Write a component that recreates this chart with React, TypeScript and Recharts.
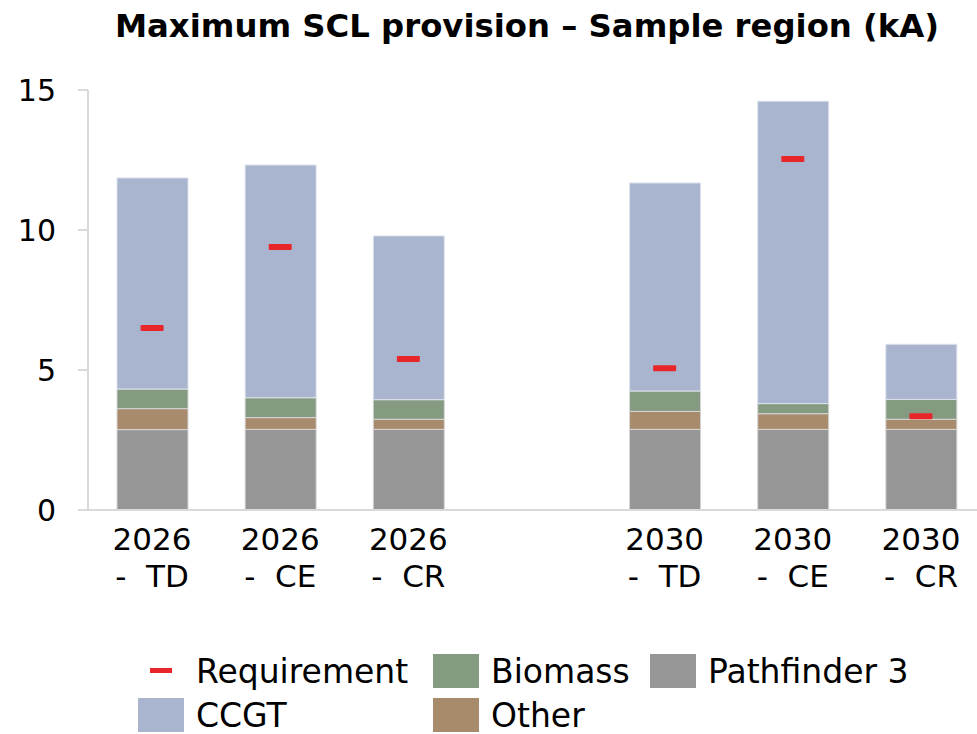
import React from 'react';
import { ComposedChart, Bar, Line, XAxis, YAxis } from 'recharts';

// categories (blank slot keeps the gap between the two years)
const CATEGORIES = ['2026 - TD', '2026 - CE', '2026 - CR', '', '2030 - TD', '2030 - CE', '2030 - CR'];

// stacked values in kA, bottom to top
const PATHFINDER = [2.87, 2.88, 2.88, null, 2.88, 2.88, 2.88];
const OTHER = [0.75, 0.42, 0.36, null, 0.64, 0.56, 0.36];
const BIOMASS = [0.7, 0.71, 0.7, null, 0.73, 0.36, 0.71];
const CCGT = [7.54, 8.31, 5.85, null, 7.43, 10.8, 1.97];
const REQUIREMENT = [6.5, 9.39, 5.39, null, 5.06, 12.54, 3.35];

const Y_TICKS = [0, 5, 10, 15];

const COLORS = {
  pathfinder: '#969696',
  other: '#a88a6c',
  biomass: '#849b82',
  ccgt: '#a9b5ce',
  req: '#e8262a',
};

const FONT = '"DejaVu Sans", Verdana, sans-serif';
const AXIS = '#d9d9d9';

const data = CATEGORIES.map((name, i) => ({
  name,
  pathfinder: PATHFINDER[i],
  other: OTHER[i],
  biomass: BIOMASS[i],
  ccgt: CCGT[i],
  req: REQUIREMENT[i],
}));

const CategoryTick = (props: any) => {
  const { x, y, payload } = props;
  const label: string = payload.value || '';
  if (!label) return <g />;
  const [year, rest] = label.split(' - ');
  return (
    <text x={x} y={y} textAnchor="middle" fontFamily={FONT} fontSize={31} fill="#000" style={{ whiteSpace: 'pre' }}>
      <tspan x={x} dy={40}>{year}</tspan>
      <tspan x={x} dy={37}>{'-  ' + rest}</tspan>
    </text>
  );
};

const ReqDash = (props: any) => {
  const { cx, cy } = props;
  if (cx == null || cy == null) return <g />;
  return <rect x={cx - 11.5} y={cy - 3} width={23} height={6} rx={1} fill={COLORS.req} />;
};

// legend layout: [label, kind, left, top]
const LEGEND_ITEMS: [string, string, number, number][] = [
  ['Requirement', 'req', 138, 654],
  ['Biomass', 'biomass', 433, 654],
  ['Pathfinder 3', 'pathfinder', 650, 654],
  ['CCGT', 'ccgt', 138, 698],
  ['Other', 'other', 433, 698],
];

export default function App() {
  return (
    <div style={{ position: 'absolute', left: 0, top: 0, width: 977, height: 734, overflow: 'hidden', background: '#fff', fontFamily: FONT }}>
      <div
        style={{
          position: 'absolute',
          left: 527,
          top: 10,
          transform: 'translateX(-50%)',
          whiteSpace: 'nowrap',
          fontSize: 32.3,
          lineHeight: '32px',
          fontWeight: 'bold',
          color: '#000',
        }}
      >
        Maximum SCL provision – Sample region (kA)
      </div>

      <div style={{ position: 'absolute', left: 0, top: 0 }}>
        <ComposedChart width={990} height={734} data={data} margin={{ top: 90, right: 5, left: 0, bottom: 124 }} barSize={71}>
          <XAxis
            dataKey="name"
            interval={0}
            axisLine={{ stroke: AXIS, strokeWidth: 2 }}
            tickLine={false}
            tickSize={0}
            tickMargin={0}
            height={100}
            tick={<CategoryTick />}
          />
          <YAxis
            domain={[0, 15]}
            ticks={Y_TICKS}
            width={88}
            axisLine={{ stroke: AXIS, strokeWidth: 2 }}
            tickLine={{ stroke: AXIS, strokeWidth: 2 }}
            tickSize={10}
            tickMargin={22}
            tick={{ fill: '#000', fontSize: 30, fontFamily: FONT }}
          />
          <Bar dataKey="pathfinder" stackId="a" fill={COLORS.pathfinder} stroke="#d6d6d6" strokeWidth={1} isAnimationActive={false} />
          <Bar dataKey="other" stackId="a" fill={COLORS.other} stroke="#d6d6d6" strokeWidth={1} isAnimationActive={false} />
          <Bar dataKey="biomass" stackId="a" fill={COLORS.biomass} stroke="#d6d6d6" strokeWidth={1} isAnimationActive={false} />
          <Bar dataKey="ccgt" stackId="a" fill={COLORS.ccgt} stroke="#dde2ec" strokeWidth={1} isAnimationActive={false} />
          <Line dataKey="req" stroke="none" dot={<ReqDash />} activeDot={false} isAnimationActive={false} />
        </ComposedChart>
      </div>

      {LEGEND_ITEMS.map(([label, kind, left, top]) => (
        <div key={label}>
          {kind === 'req' ? (
            <div style={{ position: 'absolute', left: left + 12, top: top + 14, width: 22, height: 5, background: COLORS.req }} />
          ) : (
            <div style={{ position: 'absolute', left, top, width: 46, height: 34, background: (COLORS as any)[kind] }} />
          )}
          <div style={{ position: 'absolute', left: left + 58, top: top + 4, fontSize: 33, lineHeight: '27px', color: '#000', whiteSpace: 'nowrap' }}>
            {label}
          </div>
        </div>
      ))}
    </div>
  );
}
